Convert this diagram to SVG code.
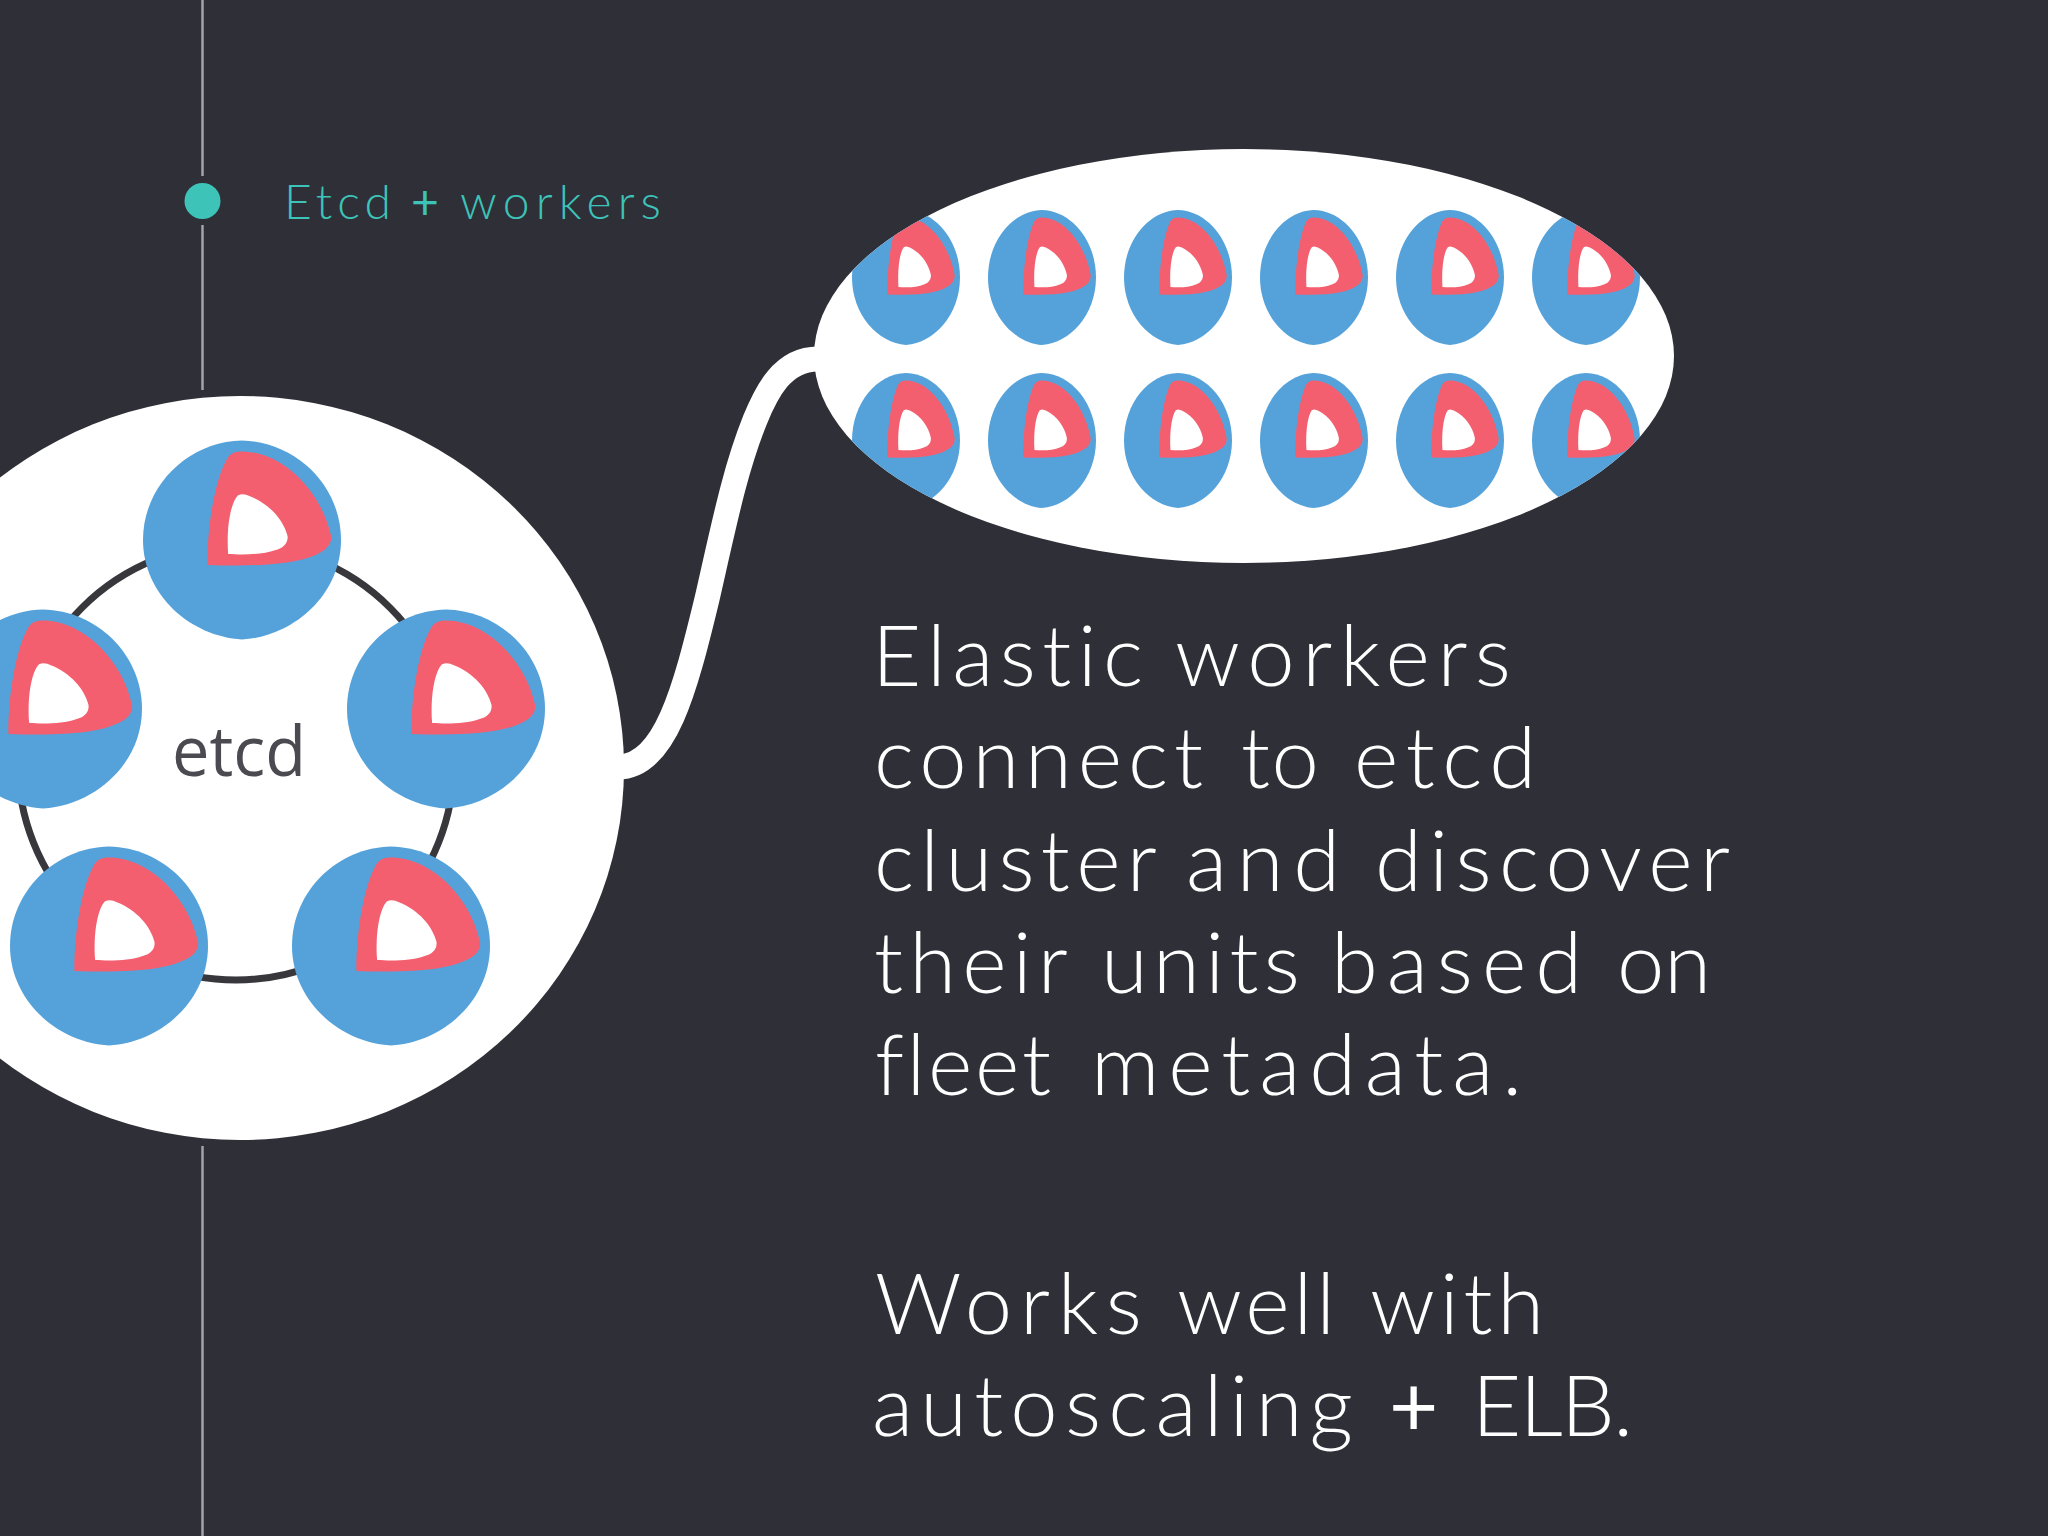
<svg xmlns="http://www.w3.org/2000/svg" xmlns:xlink="http://www.w3.org/1999/xlink" width="2048" height="1536" viewBox="0 0 2048 1536">
<style>
.bg{fill:#2f2f37}
.rail{stroke:#a3a3a8;stroke-width:2.5;fill:none}
.shape{fill:#fff}
.link{fill:none;stroke:#fff;stroke-width:25}
.ring{fill:none;stroke:#37373c;stroke-width:7}
text{font-variant-ligatures:none}
.head{font-family:"Lato","Liberation Sans",sans-serif;font-weight:300;font-size:48px;fill:#3dc3b8}
.body{font-family:"Lato","Liberation Sans",sans-serif;font-weight:300;font-size:85px;fill:#fff}
.plus{font-weight:400}
.etcd{font-family:"Open Sans","Noto Sans",sans-serif;font-size:70px;fill:#4a4a50}
</style>
<defs>
<g id="ball">
<path fill="#55a2da" d="M0,-100C54,-99 100,-55 100,0C100,55 52,97 0,100C-52,97 -100,55 -100,0C-100,-55 -54,-99 0,-100Z"/>
<path fill="#f45f6f" d="M-35,25C-35,-20 -26,-62 -16,-80C-12,-88 -6,-89 0,-89C40,-89 80,-50 90,-4C91,3 86,9 80,12C60,24 20,27 -35,25Z"/>
<path fill="#fff" d="M-14,14C-16,-15 -11,-38 -4,-45C0,-47 4,-46 8,-44C28,-36 42,-20 46,-4C47,4 40,9 34,10C20,15 0,15 -14,14Z"/>
</g>
<clipPath id="oval"><ellipse cx="1244" cy="356" rx="430" ry="207"/></clipPath>
</defs>
<rect class="bg" width="2048" height="1536"/>
<g id="timeline">
<path class="rail" d="M202.500 0V176M202.500 225V390M202.500 1146V1536"/>
<circle cx="202.500" cy="201" r="18" fill="#3dc3b8"/>
<text class="head" y="219"><tspan x="284" textLength="107" lengthAdjust="spacing">Etcd</tspan> <tspan class="plus" x="411" textLength="29" lengthAdjust="spacing">+</tspan> <tspan x="460" textLength="201" lengthAdjust="spacing">workers</tspan></text>
</g>
<g id="connectors">
<path class="link" d="M618 767C665 767 685 690 707 599C725 520 735 470 755 420C766 393 782 359 818 359"/>
</g>
<g id="node-etcd">
<ellipse class="shape" cx="240" cy="768" rx="384" ry="372"/>
<circle class="ring" cx="236" cy="762" r="218"/>
<use xlink:href="#ball" href="#ball" transform="translate(242 540) scale(.99 .995)"/>
<use xlink:href="#ball" href="#ball" transform="translate(43 709) scale(.99 .995)"/>
<use xlink:href="#ball" href="#ball" transform="translate(446 709) scale(.99 .995)"/>
<use xlink:href="#ball" href="#ball" transform="translate(109 946) scale(.99 .995)"/>
<use xlink:href="#ball" href="#ball" transform="translate(391 946) scale(.99 .995)"/>
<text class="etcd" x="172" y="776" textLength="134" lengthAdjust="spacingAndGlyphs">etcd</text>
</g>
<g id="node-workers">
<ellipse class="shape" cx="1244" cy="356" rx="430" ry="207"/>
<g clip-path="url(#oval)">
<use href="#ball" transform="translate(906 277.500) scale(.54 .675)"/>
<use href="#ball" transform="translate(1042 277.500) scale(.54 .675)"/>
<use href="#ball" transform="translate(1178 277.500) scale(.54 .675)"/>
<use href="#ball" transform="translate(1314 277.500) scale(.54 .675)"/>
<use href="#ball" transform="translate(1450 277.500) scale(.54 .675)"/>
<use href="#ball" transform="translate(1586 277.500) scale(.54 .675)"/>
<use href="#ball" transform="translate(906 440.500) scale(.54 .675)"/>
<use href="#ball" transform="translate(1042 440.500) scale(.54 .675)"/>
<use href="#ball" transform="translate(1178 440.500) scale(.54 .675)"/>
<use href="#ball" transform="translate(1314 440.500) scale(.54 .675)"/>
<use href="#ball" transform="translate(1450 440.500) scale(.54 .675)"/>
<use href="#ball" transform="translate(1586 440.500) scale(.54 .675)"/>
</g>
</g>
<g id="caption">
<text class="body" y="686"><tspan x="872" textLength="271" lengthAdjust="spacing">Elastic</tspan> <tspan x="1175" textLength="336" lengthAdjust="spacing">workers</tspan></text>
<text class="body" y="788"><tspan x="874" textLength="329" lengthAdjust="spacing">connect</tspan> <tspan x="1241" textLength="78" lengthAdjust="spacing">to</tspan> <tspan x="1354" textLength="182" lengthAdjust="spacing">etcd</tspan></text>
<text class="body" y="891"><tspan x="874" textLength="281" lengthAdjust="spacing">cluster</tspan> <tspan x="1186" textLength="154" lengthAdjust="spacing">and</tspan> <tspan x="1375" textLength="355" lengthAdjust="spacing">discover</tspan></text>
<text class="body" y="993"><tspan x="874" textLength="192" lengthAdjust="spacing">their</tspan> <tspan x="1101" textLength="199" lengthAdjust="spacing">units</tspan> <tspan x="1331" textLength="251" lengthAdjust="spacing">based</tspan> <tspan x="1617" textLength="94" lengthAdjust="spacing">on</tspan></text>
<text class="body" y="1095"><tspan x="875" textLength="176" lengthAdjust="spacing">fleet</tspan> <tspan x="1091" textLength="431" lengthAdjust="spacing">metadata.</tspan></text>
<text class="body" y="1334"><tspan x="875" textLength="267" lengthAdjust="spacing">Works</tspan> <tspan x="1177" textLength="158" lengthAdjust="spacing">well</tspan> <tspan x="1370" textLength="174" lengthAdjust="spacing">with</tspan></text>
<text class="body" y="1436"><tspan x="872" textLength="481" lengthAdjust="spacing">autoscaling</tspan> <tspan class="plus" x="1389" textLength="48" lengthAdjust="spacing">+</tspan> <tspan x="1472" textLength="161" lengthAdjust="spacing">ELB.</tspan></text>
</g>
</svg>
